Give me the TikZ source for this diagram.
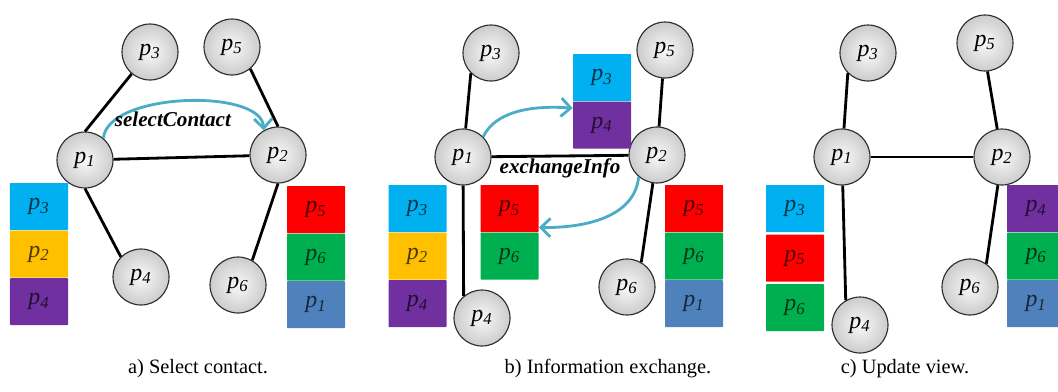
\documentclass[tikz,border=0pt]{standalone}
\usepackage{fontspec}
\setmainfont{LiberationSerif}[Extension=.ttf, UprightFont=*-Regular, ItalicFont=*-Italic,
	BoldFont=*-Bold, BoldItalicFont=*-BoldItalic]
\usetikzlibrary{positioning,arrows.meta}
\definecolor{viewcyan}{RGB}{0,176,240}
\definecolor{vieworange}{RGB}{255,192,0}
\definecolor{viewpurple}{RGB}{112,48,160}
\definecolor{viewred}{RGB}{255,0,0}
\definecolor{viewgreen}{RGB}{0,176,80}
\definecolor{viewblue}{RGB}{79,129,189}
\definecolor{arrowteal}{RGB}{75,172,198}
\newcommand{\pid}[1]{\textit{p\textsubscript{#1}}}

\begin{document}
\begin{tikzpicture}[x=0.25mm, y=-0.25mm,
		font=\fontsize{14.5}{17}\selectfont,
		peer/.style={circle, minimum size=14mm, inner sep=0pt, draw=gray!35!black, line width=0.8pt,
			shading=radial, inner color=gray!5, outer color=gray!40, font=\fontsize{17}{19}\selectfont},
		entry/.style={rectangle, minimum width=14.5mm, minimum height=11.75mm, inner sep=0pt,
			rounded corners=0.5pt, fill=#1, text=#1!30!black, font=\fontsize{17}{19}\selectfont},
		link/.style={line width=2pt},
		gossip/.style={draw=arrowteal, line width=2pt, -{Straight Barb[length=2.4mm,width=4.6mm]}},
		action/.style={font=\fontsize{15}{17}\selectfont\bfseries\itshape, inner sep=1pt}]
	\useasboundingbox (0,0) rectangle (1058,392);
	
	% a) select contact
	\node[peer] (a1) at (85,160) {\pid{1}};
	\node[peer] (a2) at (278,155) {\pid{2}};
	\node[peer] (a3) at (150,52) {\pid{3}};
	\node[peer] (a4) at (141,277) {\pid{4}};
	\node[peer] (a5) at (232,47) {\pid{5}};
	\node[peer] (a6) at (238,285) {\pid{6}};
	\draw[link] (a1.north) -- (a3.230);
	\draw[link] (a1) -- (a2);
	\draw[link] (a1.south) -- (a4.135);
	\draw[link] (a5.-50) -- (a2.north);
	\draw[link] (a2.south) -- (a6.60);
	\draw[gossip] (a1.50) .. controls (108,92) and (262,88) .. node[pos=0.45, below=5pt, action] (sel) {selectContact} (a2.120);
	
	\node[entry=viewcyan] (aL1) at (39,206.5) {\pid{3}};
	\node[entry=vieworange, below=0mm of aL1] (aL2) {\pid{2}};
	\node[entry=viewpurple, below=0mm of aL2] (aL3) {\pid{4}};
	\node[entry=viewred] (aR1) at (316,209.5) {\pid{5}};
	\node[entry=viewgreen, below=0mm of aR1] (aR2) {\pid{6}};
	\node[entry=viewblue, below=0mm of aR2] (aR3) {\pid{1}};
	
	% b) information exchange
	\node[peer] (b1) at (463,157) {\pid{1}};
	\node[peer] (b2) at (657,155) {\pid{2}};
	\node[peer] (b3) at (491,53) {\pid{3}};
	\node[peer] (b4) at (482,318) {\pid{4}};
	\node[peer] (b5) at (665,50) {\pid{5}};
	\node[peer] (b6) at (627,287) {\pid{6}};
	\draw[link] (b1) -- (b3.225);
	\draw[link] (b1) -- node[below, action] (exc) {exchangeInfo} (b2);
	\draw[link] (b1) -- (b4.130);
	\draw[link] (b2) -- (b5.265);
	\draw[link] (b2) -- (b6.60);
	
	\node[entry=viewcyan] (bL1) at (417.5,208.5) {\pid{3}};
	\node[entry=vieworange, below=0mm of bL1] (bL2) {\pid{2}};
	\node[entry=viewpurple, below=0mm of bL2] (bL3) {\pid{4}};
	\node[entry=viewcyan] (bT1) at (602,77.5) {\pid{3}};
	\node[entry=viewpurple, below=0mm of bT1] (bT2) {\pid{4}};
	\node[entry=viewred] (bM1) at (509.5,208.5) {\pid{5}};
	\node[entry=viewgreen, below=0mm of bM1] (bM2) {\pid{6}};
	\node[entry=viewred] (bR1) at (694,208.5) {\pid{5}};
	\node[entry=viewgreen, below=0mm of bR1] (bR2) {\pid{6}};
	\node[entry=viewblue, below=0mm of bR2] (bR3) {\pid{1}};
	
	\draw[gossip] (b1.45) .. controls (495,112) and (530,105) .. (bT2.150);
	\draw[gossip] (b2.-130) .. controls (635,215) and (590,228) .. (bM1.-33);
	
	% c) update view
	\node[peer] (c1) at (842,157) {\pid{1}};
	\node[peer] (c2) at (1002,157) {\pid{2}};
	\node[peer] (c3) at (868,53) {\pid{3}};
	\node[peer] (c4) at (860,325) {\pid{4}};
	\node[peer] (c5) at (985,43) {\pid{5}};
	\node[peer] (c6) at (970,287) {\pid{6}};
	\draw[link] (c1) -- (c3.225);
	\draw[link] (c1) -- (c2);
	\draw[link] (c1) -- (c4.120);
	\draw[link] (c2) -- (c5.275);
	\draw[link] (c2) -- (c6.55);
	
	\node[entry=viewcyan] (cL1) at (795,208.5) {\pid{3}};
	\node[entry=viewred, below=0.5mm of cL1] (cL2) {\pid{5}};
	\node[entry=viewgreen, below=0.5mm of cL2] (cL3) {\pid{6}};
	\node[entry=viewpurple] (cR1) at (1036,208.5) {\pid{4}};
	\node[entry=viewgreen, below=0mm of cR1] (cR2) {\pid{6}};
	\node[entry=viewblue, below=0mm of cR2] (cR3) {\pid{1}};
	
	% captions
	\node (capa) at (198,369) {a) Select contact.};
	\node (capb) at (608,369) {b) Information exchange.};
	\node (capc) at (905,369) {c) Update view.};
\end{tikzpicture}
\end{document}
